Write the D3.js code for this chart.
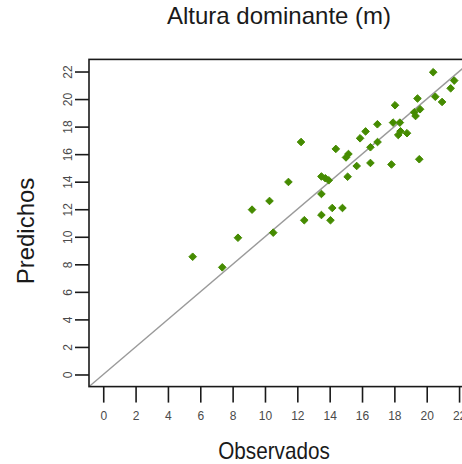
<!DOCTYPE html>
<html>
<head>
<meta charset="utf-8">
<script src="https://cdn.jsdelivr.net/npm/d3@7"></script>
<style>
  html, body { margin: 0; padding: 0; background: #fff; }
  svg { display: block; font-family: "Liberation Sans", Arial, sans-serif; }
</style>
</head>
<body>
<svg id="chart" width="462" height="464"></svg>
<script>
// Observed vs. predicted dominant height (m)
const observados = [
  5.53, 7.36, 8.33, 9.20, 10.28, 10.51, 11.45, 12.23, 12.43, 13.49,
  13.49, 13.49, 13.73, 13.94, 14.05, 14.16, 14.79, 14.38, 15.11, 15.16,
  15.01, 15.67, 15.88, 16.22, 16.52, 16.52, 16.96, 16.95, 17.82, 17.92,
  18.34, 18.04, 18.24, 18.38, 18.78, 19.43, 19.54, 19.59, 19.23, 19.31,
  20.40, 20.53, 20.95, 21.48, 21.70
];
const predichos = [
  8.55, 7.78, 9.93, 11.97, 12.60, 10.30, 13.98, 16.88, 11.20, 11.58,
  13.11, 14.38, 14.25, 14.10, 11.20, 12.09, 12.09, 16.38, 14.36, 16.01,
  15.76, 15.14, 17.15, 17.65, 16.50, 15.36, 16.88, 18.17, 15.25, 18.29,
  18.29, 19.55, 17.39, 17.66, 17.52, 20.04, 15.63, 19.26, 19.04, 18.77,
  21.95, 20.17, 19.79, 20.78, 21.34
];
const xTicks = [0, 2, 4, 6, 8, 10, 12, 14, 16, 18, 20, 22];
const yTicks = [0, 2, 4, 6, 8, 10, 12, 14, 16, 18, 20, 22];
const limits = [0, 22];

const svg = d3.select("#chart");

// plot region (R-style 4% padding around the limits)
const pad = (limits[1] - limits[0]) * 0.04;
const box = { left: 89, right: 473.3, top: 59.4, bottom: 386.6 };
const x = d3.scaleLinear().domain([limits[0] - pad, limits[1] + pad]).range([box.left, box.right]);
const y = d3.scaleLinear().domain([limits[0] - pad, limits[1] + pad]).range([box.bottom, box.top]);

const ink = "#1a1a1a";
const tickInk = "#4a4a4a";

svg.append("rect").attr("width", 462).attr("height", 464).attr("fill", "#fff");

svg.append("clipPath").attr("id", "plotclip")
  .append("rect")
  .attr("x", box.left).attr("y", box.top)
  .attr("width", box.right - box.left).attr("height", box.bottom - box.top);

// 1:1 reference line
svg.append("line")
  .attr("clip-path", "url(#plotclip)")
  .attr("x1", x(limits[0] - pad)).attr("y1", y(limits[0] - pad))
  .attr("x2", x(limits[1] + pad)).attr("y2", y(limits[1] + pad))
  .attr("stroke", "#9a9a9a").attr("stroke-width", 1.4);

// points (filled diamonds)
const pts = observados.map((v, i) => ({ o: v, p: predichos[i] }));
const r = 3.8;
svg.append("g")
  .selectAll("path")
  .data(pts)
  .join("path")
  .attr("transform", d => `translate(${x(d.o)},${y(d.p)})`)
  .attr("d", `M0,${-r}L${r},0L0,${r}L${-r},0Z`)
  .attr("fill", "#458B00")
  .attr("stroke", "#458B00")
  .attr("stroke-width", 1)
  .attr("stroke-linejoin", "round");

// frame
svg.append("rect")
  .attr("x", box.left).attr("y", box.top)
  .attr("width", box.right - box.left).attr("height", box.bottom - box.top)
  .attr("fill", "none").attr("stroke", ink).attr("stroke-width", 1.6);

// bottom axis
const xAxis = d3.axisBottom(x).tickValues(xTicks).tickSize(16).tickPadding(9).tickSizeOuter(0);
const gx = svg.append("g").attr("transform", `translate(0,${box.bottom})`).call(xAxis);
gx.select(".domain").remove();
gx.selectAll(".tick line").attr("stroke", ink).attr("stroke-width", 1.6);
gx.selectAll(".tick text")
  .attr("fill", tickInk)
  .attr("font-size", 12)
  .attr("font-family", "Liberation Sans, Arial, sans-serif");

// left axis, labels parallel to the axis
const yAxis = d3.axisLeft(y).tickValues(yTicks).tickSize(14).tickPadding(6).tickSizeOuter(0);
const gy = svg.append("g").attr("transform", `translate(${box.left},0)`).call(yAxis);
gy.select(".domain").remove();
gy.selectAll(".tick line").attr("stroke", ink).attr("stroke-width", 1.6);
gy.selectAll(".tick text")
  .attr("fill", tickInk)
  .attr("font-size", 12)
  .attr("font-family", "Liberation Sans, Arial, sans-serif")
  .attr("x", null).attr("dy", null)
  .attr("text-anchor", "middle")
  .attr("transform", "translate(-21,0) rotate(-90)")
  .attr("dy", "0.32em");

// titles
svg.append("text")
  .attr("x", 279).attr("y", 24)
  .attr("text-anchor", "middle")
  .attr("font-size", 24)
  .attr("fill", ink)
  .text("Altura dominante (m)");

svg.append("text")
  .attr("transform", "translate(274,459) scale(0.9,1)")
  .attr("text-anchor", "middle")
  .attr("font-size", 23)
  .attr("fill", ink)
  .text("Observados");

svg.append("text")
  .attr("transform", "translate(34,231) rotate(-90)")
  .attr("text-anchor", "middle")
  .attr("font-size", 24)
  .attr("fill", ink)
  .text("Predichos");
</script>
</body>
</html>
